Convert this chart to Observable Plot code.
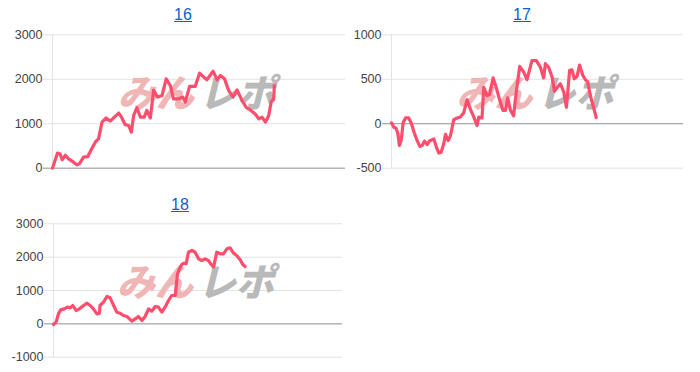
<!DOCTYPE html>
<html>
<head>
<meta charset="utf-8">
<script src="https://cdn.jsdelivr.net/npm/d3@7"></script>
<script src="https://cdn.jsdelivr.net/npm/@observablehq/plot@0.6"></script>
<style>
  html, body { margin: 0; padding: 0; background: #fff; }
  #root { position: relative; width: 700px; height: 372px; overflow: hidden; font-family: "Liberation Sans", Arial, sans-serif; }
  .panel { position: absolute; }
  .title { position: absolute; font-size: 16px; color: #0a5fcf; text-decoration: underline; transform: translateX(-50%); white-space: nowrap; }
</style>
</head>
<body>
<div id="root"></div>
<script>
// Panel titles
const titles = ["16", "17", "18"];

// Chart "16": x position (share of the axis, 0-100) and cumulative diff
const games16 = [0,1.7,2.6,3.3,4.4,5.5,7.2,8.3,9.2,10.6,12.0,13.4,14.6,15.7,16.9,18.3,19.7,21.1,22.6,23.7,24.8,26.0,26.9,27.7,28.8,30.0,31.3,32.2,33.4,34.5,35.9,37.4,38.8,40.2,41.3,43.1,44.5,45.3,46.8,48.7,50.2,51.6,52.7,54.8,56.2,57.3,58.7,60.1,61.6,63.0,64.7,66.2,67.5,69.2,70.4,71.5,72.7,73.8,74.6,75.5,75.7];
const diff16  = [0,340,320,190,290,210,135,75,100,250,260,435,585,660,1035,1130,1060,1150,1240,1130,980,960,810,1185,1360,1150,1150,1300,1130,1750,1600,1635,2010,1860,1560,1560,1600,1485,1840,1840,2140,2050,1990,2180,1990,2085,2010,1750,1600,1760,1520,1360,1310,1220,1110,1150,1035,1185,1485,1560,1860];
const ticks16 = [0, 1000, 2000, 3000];

// Chart "17"
const games17 = [0,0.8,1.6,2.2,2.7,3.3,4.0,4.8,5.9,6.8,7.9,8.8,9.7,10.5,11.3,12.2,13.1,13.9,14.5,15.4,16.2,17.0,17.9,18.5,19.4,20.2,21.3,22.5,23.6,24.7,25.9,27.0,28.2,29.3,29.9,31.0,31.6,32.7,33.6,34.8,35.9,37.1,38.2,39.0,39.8,40.7,41.8,42.8,43.9,45.3,46.4,48.1,49.6,51.0,52.1,52.7,53.8,55.0,55.8,56.7,57.8,59.0,59.9,61.0,61.8,62.6,63.5,64.4,65.5,66.4,67.2,68.1,69.2,70.1];
const diff17  = [10,-40,-50,-115,-245,-190,15,65,65,5,-115,-190,-255,-245,-195,-235,-190,-180,-170,-265,-330,-320,-225,-120,-190,-135,45,65,75,120,270,165,75,-20,75,65,410,315,330,515,405,260,150,150,290,155,90,375,645,580,495,710,710,635,515,675,635,525,365,405,450,355,185,600,605,505,530,660,545,495,470,315,185,70];
const ticks17 = [-500, 0, 500, 1000];

// Chart "18"
const games18 = [0,0.9,1.7,2.5,3.7,4.8,5.8,6.7,7.8,9.0,10.4,11.5,12.7,13.8,15.0,15.9,16.1,17.3,18.5,19.6,20.8,21.9,23.1,24.2,25.4,26.3,27.1,28.3,29.4,30.6,31.7,32.9,34.0,35.2,36.3,37.5,38.6,39.8,40.9,42.1,42.9,43.6,44.4,45.2,45.9,46.7,47.9,49.0,50.2,51.3,52.5,53.6,54.4,55.4,56.5,57.7,58.8,60.0,61.1,62.3,63.4,64.6,65.5,66.3];
const diff18  = [-20,50,300,420,450,500,480,550,400,450,550,620,550,450,300,320,550,650,820,780,550,350,320,250,220,150,80,150,220,100,220,450,380,520,500,350,500,700,850,850,1500,1650,1780,1820,1800,2150,2200,2150,1950,1900,1950,1900,1800,1700,2150,2100,2100,2250,2280,2120,2050,1920,1780,1720];
const ticks18 = [-1000, 0, 1000, 2000, 3000];

// Watermark text
const markA = "みん";
const markB = "レポ";

const root = document.getElementById("root");

function panel({title, games, diff, ticks, left, top, width, height, mt, mb, ml, mr, titleX, titleY}) {
  const data = games.map((g, i) => ({g, d: diff[i]}));
  const chart = Plot.plot({
    width, height,
    marginTop: mt, marginBottom: mb, marginLeft: ml, marginRight: mr,
    style: {fontFamily: "'Liberation Sans', Arial, sans-serif", background: "transparent", overflow: "visible"},
    x: {domain: [0, 100], axis: null},
    y: {domain: [ticks[0], ticks[ticks.length - 1]], ticks, axis: null},
    marks: [
      Plot.gridY(ticks, {stroke: "#e3e3e3", strokeOpacity: 1}),
      Plot.axisY(ticks, {label: null, tickSize: 9, tickPadding: 1, stroke: "#e3e3e3", fill: "#444", fontSize: 12.5, tickFormat: d => String(d)}),
      Plot.ruleX([0], {stroke: "#e3e3e3"}),
      Plot.ruleY([0], {stroke: "#9a9a9a", insetLeft: -9}),
      Plot.text([markA], {frameAnchor: "middle", dx: -43, dy: -7, fontSize: 38, fontWeight: 900, fontStyle: "italic",
        fontFamily: "'Noto Sans CJK JP', sans-serif", fill: "#f0b6b6"}),
      Plot.text([markB], {frameAnchor: "middle", dx: 38, dy: -7, fontSize: 38, fontWeight: 900, fontStyle: "italic",
        fontFamily: "'Noto Sans CJK JP', sans-serif", fill: "#b9b9b9"}),
      Plot.line(data, {x: "g", y: "d", stroke: "#ff4d6d", strokeWidth: 3.2, curve: "linear"})
    ]
  });
  const wrap = document.createElement("div");
  wrap.className = "panel";
  wrap.style.left = left + "px";
  wrap.style.top = top + "px";
  wrap.appendChild(chart);
  root.appendChild(wrap);
  const t = document.createElement("a");
  t.className = "title";
  t.textContent = title;
  t.style.left = titleX + "px";
  t.style.top = titleY + "px";
  root.appendChild(t);
}

panel({title: titles[0], games: games16, diff: diff16, ticks: ticks16,
  left: 0, top: 0, width: 350, height: 175, mt: 34.3, mb: 7.3, ml: 52, mr: 5, titleX: 183, titleY: 6});
panel({title: titles[1], games: games17, diff: diff17, ticks: ticks17,
  left: 350, top: 0, width: 350, height: 175, mt: 34.3, mb: 7.3, ml: 41, mr: 17, titleX: 522, titleY: 6});
panel({title: titles[2], games: games18, diff: diff18, ticks: ticks18,
  left: 0, top: 190, width: 350, height: 175, mt: 33.3, mb: 8.3, ml: 53, mr: 8, titleX: 180, titleY: 196});
</script>
</body>
</html>
